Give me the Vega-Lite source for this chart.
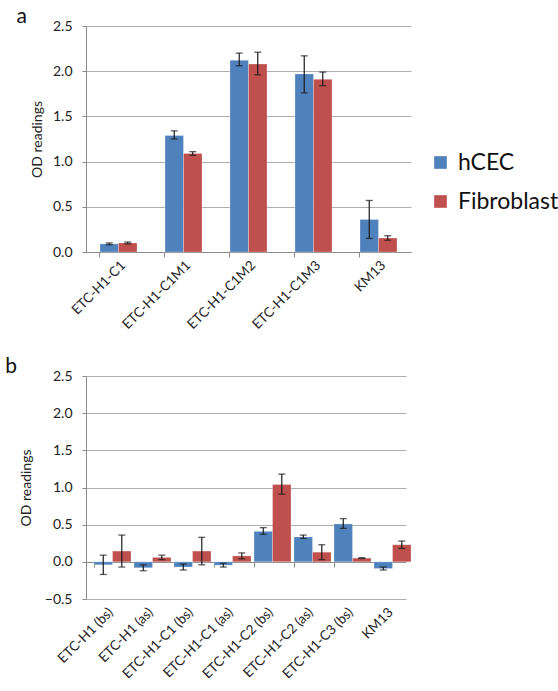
{
  "$schema": "https://vega.github.io/schema/vega-lite/v6.json",
  "background": "white",
  "padding": {"left": 5, "top": 6, "right": 0, "bottom": 0},
  "config": {
    "font": "Lato",
    "view": {"stroke": null},
    "axis": {"labelFont": "Lato", "titleFont": "Lato", "labelColor": "#222222", "titleColor": "#222222"},
    "title": {"font": "Lato", "fontSize": 21, "fontWeight": "normal", "color": "#111111"}
  },
  "datasets": {
    "a": [
      {"sample": "ETC-H1-C1", "cell": "hCEC", "value": 0.09, "lo": 0.08, "hi": 0.10},
      {"sample": "ETC-H1-C1", "cell": "Fibroblast", "value": 0.10, "lo": 0.09, "hi": 0.11},
      {"sample": "ETC-H1-C1M1", "cell": "hCEC", "value": 1.29, "lo": 1.25, "hi": 1.34},
      {"sample": "ETC-H1-C1M1", "cell": "Fibroblast", "value": 1.09, "lo": 1.07, "hi": 1.11},
      {"sample": "ETC-H1-C1M2", "cell": "hCEC", "value": 2.12, "lo": 2.06, "hi": 2.20},
      {"sample": "ETC-H1-C1M2", "cell": "Fibroblast", "value": 2.08, "lo": 1.96, "hi": 2.21},
      {"sample": "ETC-H1-C1M3", "cell": "hCEC", "value": 1.97, "lo": 1.76, "hi": 2.17},
      {"sample": "ETC-H1-C1M3", "cell": "Fibroblast", "value": 1.91, "lo": 1.84, "hi": 1.99},
      {"sample": "KM13", "cell": "hCEC", "value": 0.36, "lo": 0.15, "hi": 0.57},
      {"sample": "KM13", "cell": "Fibroblast", "value": 0.155, "lo": 0.13, "hi": 0.18}
    ],
    "b": [
      {"sample": "ETC-H1 (bs)", "cell": "hCEC", "value": -0.04, "lo": -0.17, "hi": 0.09},
      {"sample": "ETC-H1 (bs)", "cell": "Fibroblast", "value": 0.145, "lo": -0.07, "hi": 0.36},
      {"sample": "ETC-H1 (as)", "cell": "hCEC", "value": -0.08, "lo": -0.12, "hi": -0.04},
      {"sample": "ETC-H1 (as)", "cell": "Fibroblast", "value": 0.06, "lo": 0.03, "hi": 0.09},
      {"sample": "ETC-H1-C1 (bs)", "cell": "hCEC", "value": -0.07, "lo": -0.11, "hi": -0.03},
      {"sample": "ETC-H1-C1 (bs)", "cell": "Fibroblast", "value": 0.145, "lo": -0.04, "hi": 0.33},
      {"sample": "ETC-H1-C1 (as)", "cell": "hCEC", "value": -0.045, "lo": -0.07, "hi": -0.02},
      {"sample": "ETC-H1-C1 (as)", "cell": "Fibroblast", "value": 0.08, "lo": 0.04, "hi": 0.12},
      {"sample": "ETC-H1-C2 (bs)", "cell": "hCEC", "value": 0.41, "lo": 0.37, "hi": 0.46},
      {"sample": "ETC-H1-C2 (bs)", "cell": "Fibroblast", "value": 1.04, "lo": 0.91, "hi": 1.18},
      {"sample": "ETC-H1-C2 (as)", "cell": "hCEC", "value": 0.335, "lo": 0.315, "hi": 0.36},
      {"sample": "ETC-H1-C2 (as)", "cell": "Fibroblast", "value": 0.13, "lo": 0.03, "hi": 0.23},
      {"sample": "ETC-H1-C3 (bs)", "cell": "hCEC", "value": 0.51, "lo": 0.45, "hi": 0.58},
      {"sample": "ETC-H1-C3 (bs)", "cell": "Fibroblast", "value": 0.05, "lo": 0.045, "hi": 0.055},
      {"sample": "KM13", "cell": "hCEC", "value": -0.09, "lo": -0.11, "hi": -0.07},
      {"sample": "KM13", "cell": "Fibroblast", "value": 0.23, "lo": 0.18, "hi": 0.28}
    ]
  },
  "concat": [
    {
      "title": {"text": "a", "anchor": "start", "frame": "bounds", "dx": -14, "offset": -8},
      "width": 325,
      "height": 226,
      "data": {"name": "a"},
      "resolve": {"axis": {"x": "independent"}},
      "layer": [
        {
          "mark": {"type": "bar", "stroke": "#ffffff", "strokeOpacity": 0.35, "strokeWidth": 0.8},
          "encoding": {
            "x": {"field": "sample", "type": "nominal", "sort": null, "title": null,
                  "scale": {"paddingInner": 0.43, "paddingOuter": 0.215},
                  "axis": {"orient": "bottom", "labelAngle": -45, "labelAlign": "right", "labelBaseline": "top", "labelFontSize": 13.5, "labelPadding": 6, "ticks": false, "domain": false}},
            "xOffset": {"field": "cell", "sort": ["hCEC", "Fibroblast"]},
            "y": {"field": "value", "type": "quantitative", "title": "OD readings",
                  "scale": {"domain": [0, 2.5], "nice": false, "zero": false},
                  "axis": {"tickCount": 5, "format": ".1f", "labelOverlap": false, "labelFontSize": 14, "titleFontSize": 14, "titleFontWeight": "normal", "labelPadding": 10, "titlePadding": 8, "tickSize": 4, "tickColor": "#8a8a8a", "domainColor": "#8a8a8a", "gridColor": "#9a9a9a", "gridOpacity": 0.8}},
            "color": {"field": "cell", "type": "nominal", "sort": ["hCEC", "Fibroblast"],
                      "scale": {"domain": ["hCEC", "Fibroblast"], "range": ["#4F81BD", "#C0504D"]},
                      "legend": {"title": null, "orient": "none", "legendX": 343, "legendY": 125, "symbolType": "square", "symbolSize": 160, "symbolStrokeWidth": 0, "labelFontSize": 23, "labelColor": "#111111", "rowPadding": 15, "labelOffset": 6}}
          }
        },
        {
          "mark": {"type": "rule", "color": "#1a1a1a", "strokeWidth": 1.2},
          "encoding": {
            "x": {"field": "sample", "type": "nominal", "sort": null, "title": null,
                  "axis": {"orient": "bottom", "labels": false, "bandPosition": 0, "ticks": true, "tickSize": 5, "tickColor": "#8a8a8a", "domainColor": "#8a8a8a", "grid": false}},
            "xOffset": {"field": "cell", "sort": ["hCEC", "Fibroblast"]},
            "y": {"field": "lo", "type": "quantitative"},
            "y2": {"field": "hi"}
          }
        },
        {
          "mark": {"type": "tick", "color": "#1a1a1a", "orient": "horizontal", "size": 7, "thickness": 1.3},
          "encoding": {
            "x": {"field": "sample", "type": "nominal", "sort": null, "axis": null},
            "xOffset": {"field": "cell", "sort": ["hCEC", "Fibroblast"]},
            "y": {"field": "lo", "type": "quantitative"}
          }
        },
        {
          "mark": {"type": "tick", "color": "#1a1a1a", "orient": "horizontal", "size": 7, "thickness": 1.3},
          "encoding": {
            "x": {"field": "sample", "type": "nominal", "sort": null, "axis": null},
            "xOffset": {"field": "cell", "sort": ["hCEC", "Fibroblast"]},
            "y": {"field": "hi", "type": "quantitative"}
          }
        }
      ]
    },
    {
      "title": {"text": "b", "anchor": "start", "frame": "bounds", "dx": -14, "offset": -8},
      "width": 320,
      "height": 223,
      "data": {"name": "b"},
      "resolve": {"axis": {"x": "independent"}},
      "layer": [
        {
          "mark": {"type": "bar", "stroke": "#ffffff", "strokeOpacity": 0.35, "strokeWidth": 0.8},
          "encoding": {
            "x": {"field": "sample", "type": "nominal", "sort": null, "title": null,
                  "scale": {"paddingInner": 0.4, "paddingOuter": 0.2},
                  "axis": {"orient": "bottom", "labelAngle": -45, "labelAlign": "right", "labelBaseline": "top", "labelFontSize": 13.5, "labelPadding": 6, "ticks": false, "domain": false}},
            "xOffset": {"field": "cell", "sort": ["hCEC", "Fibroblast"]},
            "y": {"field": "value", "type": "quantitative", "title": "OD readings",
                  "scale": {"domain": [-0.5, 2.5], "nice": false, "zero": false},
                  "axis": {"tickCount": 6, "format": ".1f", "labelOverlap": false, "labelFontSize": 14, "titleFontSize": 14, "titleFontWeight": "normal", "labelPadding": 10, "titlePadding": 11, "tickSize": 4, "tickColor": "#8a8a8a", "domainColor": "#8a8a8a", "gridColor": "#9a9a9a", "gridOpacity": 0.8}},
            "color": {"field": "cell", "type": "nominal", "sort": ["hCEC", "Fibroblast"],
                      "scale": {"domain": ["hCEC", "Fibroblast"], "range": ["#4F81BD", "#C0504D"]},
                      "legend": {"title": null, "orient": "none", "legendX": 335, "legendY": 132, "symbolType": "square", "symbolSize": 160, "symbolStrokeWidth": 0, "labelFontSize": 23, "labelColor": "#111111", "rowPadding": 18, "labelOffset": 6}}
          }
        },
        {
          "mark": {"type": "rule", "color": "#1a1a1a", "strokeWidth": 1.2},
          "encoding": {
            "x": {"field": "sample", "type": "nominal", "sort": null, "title": null,
                  "axis": {"orient": "bottom", "labels": false, "bandPosition": 0, "ticks": true, "tickSize": 5, "offset": -37, "tickColor": "#8a8a8a", "domainColor": "#8a8a8a", "grid": false}},
            "xOffset": {"field": "cell", "sort": ["hCEC", "Fibroblast"]},
            "y": {"field": "lo", "type": "quantitative"},
            "y2": {"field": "hi"}
          }
        },
        {
          "mark": {"type": "tick", "color": "#1a1a1a", "orient": "horizontal", "size": 7, "thickness": 1.3},
          "encoding": {
            "x": {"field": "sample", "type": "nominal", "sort": null, "axis": null},
            "xOffset": {"field": "cell", "sort": ["hCEC", "Fibroblast"]},
            "y": {"field": "lo", "type": "quantitative"}
          }
        },
        {
          "mark": {"type": "tick", "color": "#1a1a1a", "orient": "horizontal", "size": 7, "thickness": 1.3},
          "encoding": {
            "x": {"field": "sample", "type": "nominal", "sort": null, "axis": null},
            "xOffset": {"field": "cell", "sort": ["hCEC", "Fibroblast"]},
            "y": {"field": "hi", "type": "quantitative"}
          }
        }
      ]
    }
  ],
  "columns": 1,
  "align": "none",
  "spacing": 25
}
